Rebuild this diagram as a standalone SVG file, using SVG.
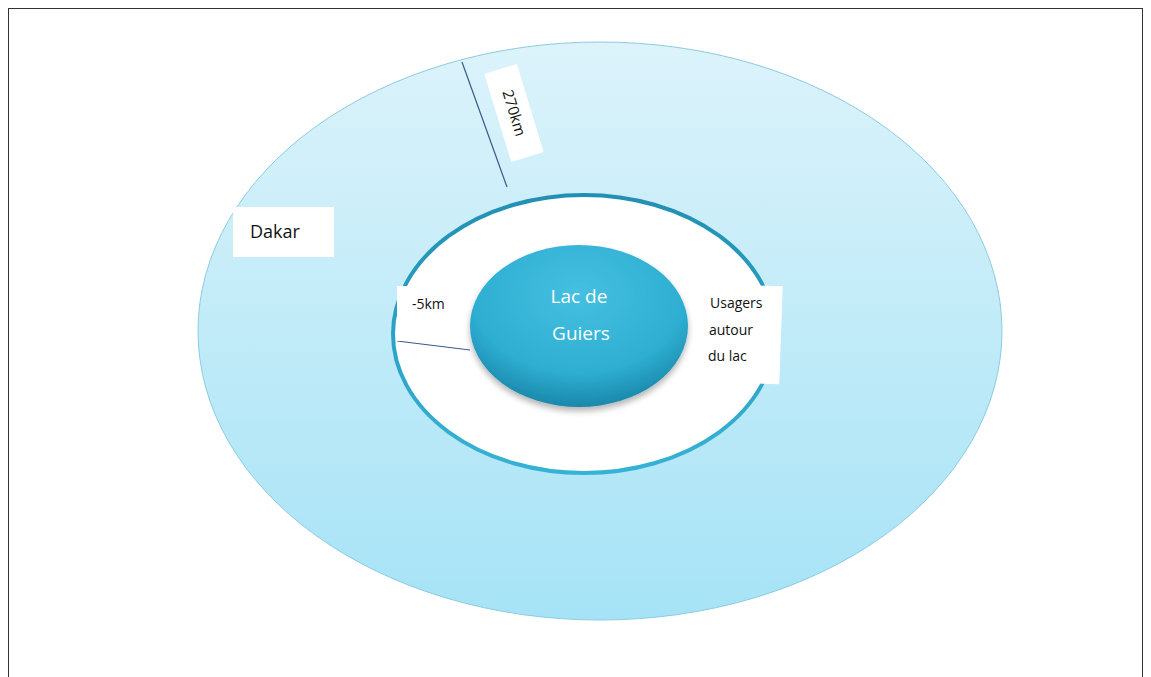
<svg xmlns="http://www.w3.org/2000/svg" width="1151" height="677" viewBox="0 0 1151 677">
<defs>
<linearGradient id="outerG" x1="0" y1="0" x2="0" y2="1">
<stop offset="0" stop-color="#dcf3fb"/>
<stop offset="1" stop-color="#a6e3f6"/>
</linearGradient>
<linearGradient id="ringG" x1="0" y1="0" x2="0" y2="1">
<stop offset="0" stop-color="#2290b2"/>
<stop offset="1" stop-color="#36b2d6"/>
</linearGradient>
<radialGradient id="lakeG" cx="0.5" cy="0.3" r="0.7">
<stop offset="0" stop-color="#45c0e0"/>
<stop offset="0.7" stop-color="#2eaed2"/>
<stop offset="1" stop-color="#1a88aa"/>
</radialGradient>
<filter id="sh" x="-20%" y="-20%" width="140%" height="150%">
<feGaussianBlur in="SourceAlpha" stdDeviation="3"/>
<feOffset dy="4"/>
<feComponentTransfer><feFuncA type="linear" slope="0.3"/></feComponentTransfer>
<feMerge><feMergeNode/><feMergeNode in="SourceGraphic"/></feMerge>
</filter>
</defs>
<style>
.lbl{font-family:"Open Sans","Liberation Sans",sans-serif;fill:#111}
.box{fill:#ffffff}
.ln{stroke:#3a5a8c;stroke-width:1.2;fill:none}
</style>
<rect x="0" y="0" width="1151" height="677" fill="#ffffff"/>
<rect x="8.5" y="8.5" width="1134" height="700" fill="none" stroke="#333" stroke-width="1"/>
<g id="outer">
<ellipse cx="600" cy="331" rx="402" ry="289" fill="url(#outerG)" stroke="#8ccbe0" stroke-width="1"/>
</g>
<g id="ring">
<ellipse cx="584" cy="334" rx="191" ry="139" fill="#ffffff" stroke="url(#ringG)" stroke-width="4"/>
</g>
<g id="connectors">
<line class="ln" x1="462" y1="62" x2="507" y2="187"/>
<line class="ln" x1="397" y1="341" x2="470" y2="350"/>
</g>
<g id="label-270km">
<g transform="translate(514,113) rotate(73)">
<rect class="box" x="-46" y="-17" width="92" height="34"/>
<text class="lbl" x="0" y="5" font-size="15" text-anchor="middle">270km</text>
</g>
</g>
<g id="label-dakar">
<rect class="box" x="233" y="207" width="101" height="50"/>
<text class="lbl" x="250" y="238" font-size="18">Dakar</text>
</g>
<g id="label-5km">
<rect class="box" x="397" y="286" width="74" height="55"/>
<text class="lbl" x="412" y="309" font-size="14">-5km</text>
</g>
<g id="lake">
<ellipse cx="579" cy="326" rx="109" ry="81" fill="url(#lakeG)" filter="url(#sh)"/>
<text x="579" y="303" font-size="19" text-anchor="middle" fill="#ffffff" font-family="Open Sans, Liberation Sans, sans-serif">Lac de</text>
<text x="581" y="340" font-size="19" text-anchor="middle" fill="#ffffff" font-family="Open Sans, Liberation Sans, sans-serif">Guiers</text>
</g>
<g id="label-usagers">
<g transform="rotate(2 744 334)">
<rect class="box" x="707" y="285" width="74" height="98"/>
</g>
<text class="lbl" x="710" y="308" font-size="14">Usagers</text>
<text class="lbl" x="709" y="335" font-size="14">autour</text>
<text class="lbl" x="708" y="361" font-size="14">du lac</text>
</g>
</svg>
